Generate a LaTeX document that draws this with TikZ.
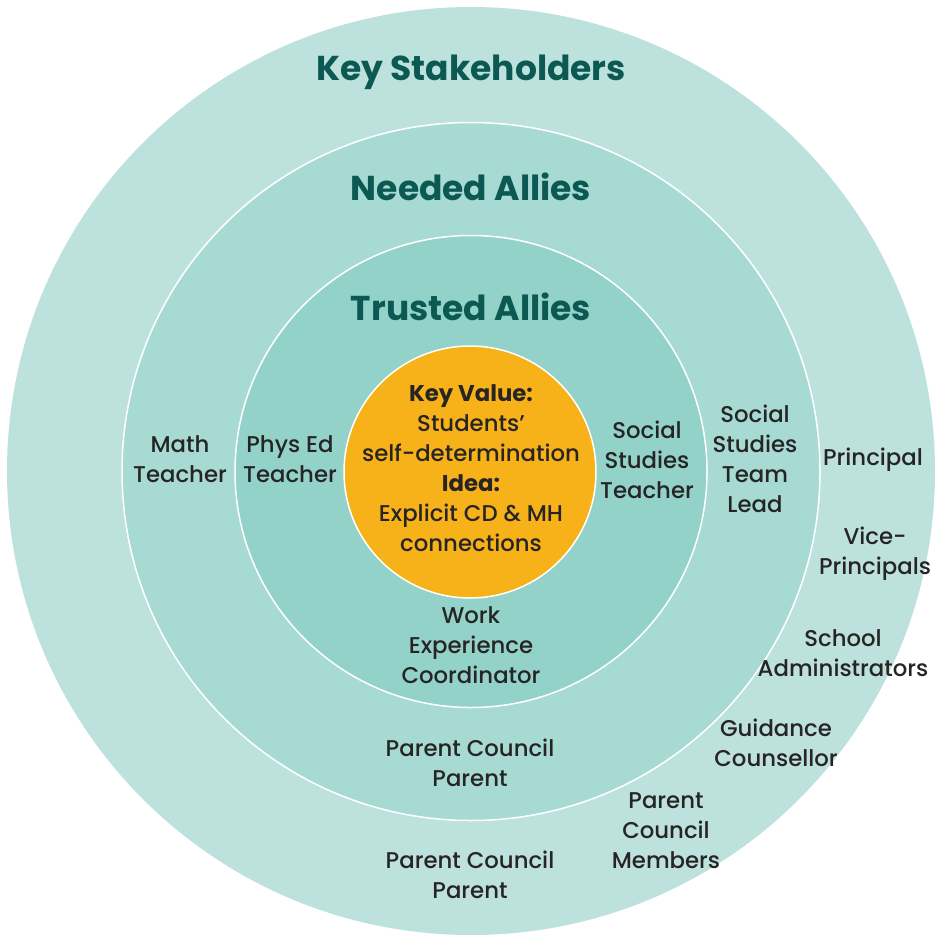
\documentclass[tikz,border=0pt]{standalone}
\usepackage{fontspec}
\setmainfont{Poppins}[UprightFont={* Medium}, BoldFont={* Bold}]
\definecolor{ringA}{HTML}{BDE1DC}
\definecolor{ringB}{HTML}{A7DAD3}
\definecolor{ringC}{HTML}{93D2C9}
\definecolor{core}{HTML}{F8B219}
\definecolor{titlec}{HTML}{0C5853}
\definecolor{bodyc}{HTML}{262424}
\begin{document}
\begin{tikzpicture}[x=1pt,y=-1pt,
  ring/.style={circle, inner sep=0pt, draw=white, line width=1.5pt},
  ttl/.style={text=titlec, font=\fontsize{34.5}{40}\selectfont\bfseries, inner sep=0pt},
  lbl/.style={text=bodyc, font=\fontsize{22.8}{30}\selectfont, align=center, inner sep=0pt}]
\useasboundingbox (0,0) rectangle (936,934);
\node[ring, draw=none, fill=ringA, minimum size=928pt] (outer) at (471,471) {};
\node[ring, fill=ringB, minimum size=698pt] (needed) at (471,471.5) {};
\node[ring, fill=ringC, minimum size=472pt] (trusted) at (471,471.5) {};
\node[ring, fill=core, minimum size=252pt] (corec) at (470,472) {};
\node[ttl] (t1) at (471,72.5) {Key Stakeholders};
\node[ttl] (t2) at (471,187) {Needed Allies};
\node[ttl] (t3) at (471,307) {Trusted Allies};
\node[lbl] (center) at (471,468) {\textbf{Key Value:}\\Students’\\self-determination\\\textbf{Idea:}\\Explicit CD \& MH\\connections};
\node[lbl] (math) at (180,459) {Math\\Teacher};
\node[lbl] (phys) at (290,459) {Phys Ed\\Teacher};
\node[lbl] (sst) at (647,460) {Social\\Studies\\Teacher};
\node[lbl] (sstl) at (755,459) {Social\\Studies\\Team\\Lead};
\node[lbl] (princ) at (873,460) {Principal};
\node[lbl] (vp) at (875,553.5) {Vice-\\Principals};
\node[lbl] (sa) at (843,653.5) {School\\Administrators};
\node[lbl] (gc) at (776,743) {Guidance\\Counsellor};
\node[lbl] (pcm) at (666,830.5) {Parent\\Council\\Members};
\node[lbl] (wec) at (471,645) {Work\\Experience\\Coordinator};
\node[lbl] (pcp1) at (470,763) {Parent Council\\Parent};
\node[lbl] (pcp2) at (470,874.5) {Parent Council\\Parent};
\end{tikzpicture}
\end{document}
